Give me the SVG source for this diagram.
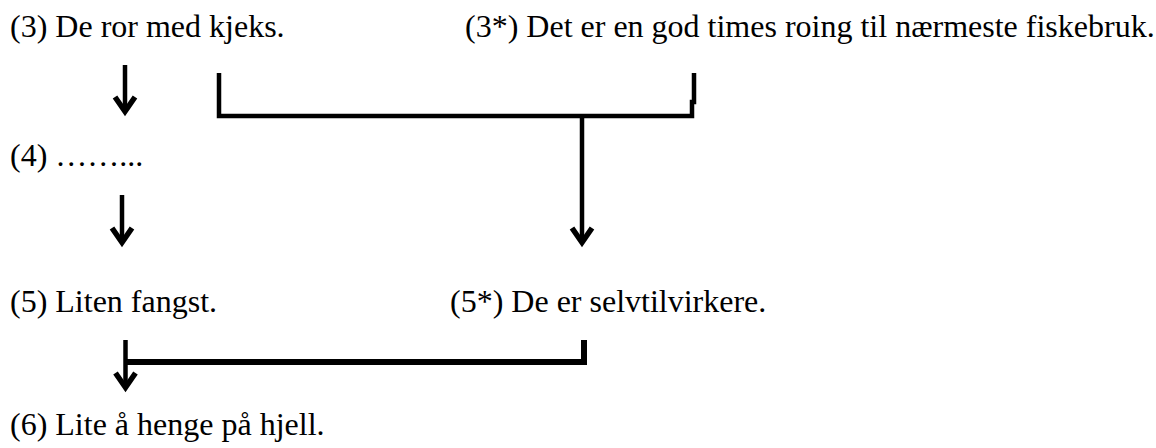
<svg xmlns="http://www.w3.org/2000/svg" width="1156" height="448" viewBox="0 0 1156 448">
  <style>
    .t { font-family: "Liberation Serif", "Times New Roman", serif; font-size: 32px; fill: #000; }
    .c { fill: none; stroke: #000; stroke-width: 4.5; stroke-linejoin: miter; }
  </style>
  <defs>
    <marker id="ah" markerUnits="userSpaceOnUse" viewBox="-28 -16 32 32" markerWidth="32" markerHeight="32" refX="-6" refY="0" orient="auto" overflow="visible">
      <path d="M-20,-10 L-5.5,0 L-20,10" fill="none" stroke="#000" stroke-width="5.5" stroke-linejoin="miter" stroke-miterlimit="6"/>
    </marker>
  </defs>
  <rect width="1156" height="448" fill="#fff"/>
  <g id="n3"><text class="t" x="10" y="37">(3) De ror med kjeks.</text></g>
  <g id="n3s"><text class="t" x="465" y="37">(3*) Det er en god times roing til nærmeste fiskebruk.</text></g>
  <g id="n4"><text class="t" x="10" y="166">(4) ……...</text></g>
  <g id="n5"><text class="t" x="10" y="312">(5) Liten fangst.</text></g>
  <g id="n5s"><text class="t" x="450" y="312">(5*) De er selvtilvirkere.</text></g>
  <g id="n6"><text class="t" x="10" y="435">(6) Lite å henge på hjell.</text></g>
  <g id="connectors">
    <line class="c" x1="125" y1="65" x2="125" y2="111" marker-end="url(#ah)"/>
    <path class="c" d="M219,73 V116 H692 V102 H694 V73"/>
    <line class="c" x1="582" y1="116" x2="582" y2="242" marker-end="url(#ah)"/>
    <line class="c" x1="122" y1="195" x2="122" y2="242" marker-end="url(#ah)"/>
    <line class="c" x1="125.5" y1="340" x2="125.5" y2="387" marker-end="url(#ah)"/>
    <path class="c" style="stroke-width:6" d="M125,362 H584 V340"/>
  </g>
</svg>
